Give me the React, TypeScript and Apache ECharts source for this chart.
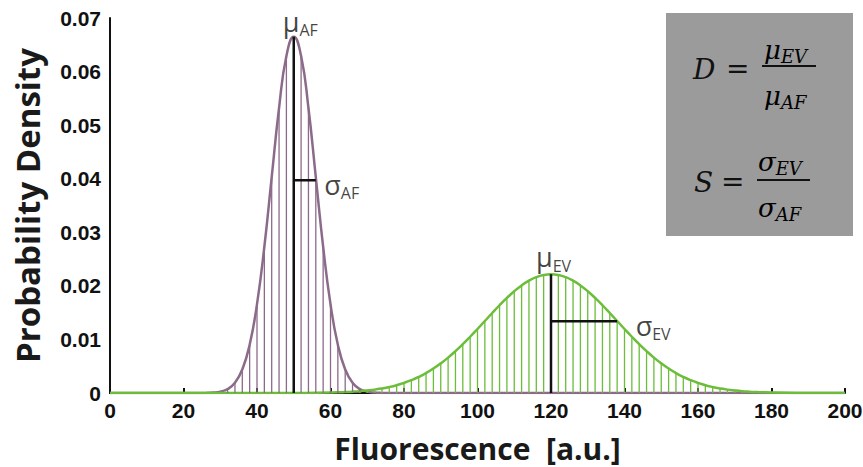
import React, { useEffect, useRef } from "react";
import * as echarts from "echarts";

// ---- data ----
const afX = [0, 20, 22, 24, 26, 28, 30, 32, 34, 36, 38, 40, 42, 44, 46, 48, 50, 52, 54, 56, 58, 60, 62, 64, 66, 68, 70, 72, 74, 76, 78, 80, 200];
const afY = [0, 0, 0, 0, 0.00002, 0.00008, 0.00026, 0.00074, 0.0019, 0.0044, 0.009, 0.0166, 0.0273, 0.0403, 0.0532, 0.0629, 0.0665, 0.0629, 0.0532, 0.0403, 0.0273, 0.0166, 0.009, 0.0044, 0.0019, 0.00074, 0.00026, 0.00008, 0.00002, 0, 0, 0, 0];

const evX = [0, 40, 50, 60, 62, 64, 66, 68, 70, 72, 74, 76, 78, 80, 82, 84, 86, 88, 90, 92, 94, 96, 98, 100, 102, 104, 106, 108, 110, 112, 114, 116, 118, 120, 122, 124, 126, 128, 130, 132, 134, 136, 138, 140, 142, 144, 146, 148, 150, 152, 154, 156, 158, 160, 162, 164, 166, 168, 170, 172, 174, 176, 178, 180, 190, 200];
const evY = [0, 0, 0.00001, 0.00009, 0.00012, 0.00018, 0.00025, 0.00034, 0.00047, 0.00063, 0.00085, 0.00112, 0.00146, 0.00188, 0.00239, 0.003, 0.00372, 0.00456, 0.00553, 0.00661, 0.00781, 0.00911, 0.0105, 0.01195, 0.01344, 0.01493, 0.01638, 0.01774, 0.01899, 0.02008, 0.02096, 0.02162, 0.02202, 0.02216, 0.02202, 0.02162, 0.02096, 0.02008, 0.01899, 0.01774, 0.01638, 0.01493, 0.01344, 0.01195, 0.0105, 0.00911, 0.00781, 0.00661, 0.00553, 0.00456, 0.00372, 0.003, 0.00239, 0.00188, 0.00146, 0.00112, 0.00085, 0.00063, 0.00047, 0.00034, 0.00025, 0.00018, 0.00012, 0.00009, 0.00001, 0];

const afStemRange = [32, 68];
const evStemRange = [64, 176];

const muAF = 50;
const muEV = 120;
const peakAF = 0.0665;
const peakEV = 0.02216;
const sigmaAF = 6;
const sigmaEV = 18;
const sigmaLevelAF = 0.0397;
const sigmaLevelEV = 0.0134;

const xTicks = [0, 20, 40, 60, 80, 100, 120, 140, 160, 180, 200];
const yTicks = [0, 0.01, 0.02, 0.03, 0.04, 0.05, 0.06, 0.07];

const PURPLE = "#8b6b89";
const GREEN = "#6bbd3a";

const pairs = (xs: number[], ys: number[]) => xs.map((x, i) => [x, ys[i]]);
const stems = (xs: number[], ys: number[], r: number[]) =>
  pairs(xs, ys).filter((p) => p[0] >= r[0] && p[0] <= r[1]);

const stemSeries = (data: number[][], color: string) => ({
  type: "custom",
  data,
  z: 3,
  renderItem: (_p: any, api: any) => {
    const x = api.value(0);
    const y = api.value(1);
    const a = api.coord([x, 0]);
    const b = api.coord([x, y]);
    return {
      type: "line",
      shape: { x1: a[0], y1: a[1], x2: b[0], y2: b[1] },
      style: { stroke: color, lineWidth: 1.3 },
    };
  },
});

const seg = (data: number[][]) => ({
  type: "line",
  data,
  symbol: "none",
  z: 5,
  lineStyle: { color: "#111", width: 2.5 },
});

const labelRich = {
  m: { fontSize: 27, lineHeight: 34, verticalAlign: "middle", fontFamily: "Open Sans", color: "#111" },
  s: { fontSize: 16, lineHeight: 16, verticalAlign: "bottom", fontFamily: "Open Sans", color: "#111" },
};

const labelSeries = (pt: number[], text: string, pos: any, offset: number[]) => ({
  type: "scatter",
  data: [pt],
  symbolSize: 1,
  itemStyle: { color: "rgba(0,0,0,0)" },
  z: 6,
  label: {
    show: true,
    position: pos,
    distance: 0,
    align: "left",
    offset,
    formatter: text,
    rich: labelRich,
  },
});

const fracRich = (size: number) => ({
  m: { fontSize: size, fontFamily: "DejaVu Serif", fontStyle: "italic", color: "#111", verticalAlign: "middle", lineHeight: 30 },
  s: { fontSize: 18, fontFamily: "DejaVu Serif", fontStyle: "italic", color: "#111", verticalAlign: "bottom", lineHeight: 18 },
});

export default function App() {
  const ref = useRef<HTMLDivElement>(null);
  useEffect(() => {
    if (!ref.current) return;
    const chart = echarts.init(ref.current, undefined, { renderer: "svg" });
    const option: any = {
      animation: false,
      backgroundColor: "#ffffff",
      grid: { left: 110, right: 18, top: 18, bottom: 74, containLabel: false, outerBoundsMode: "none" },
      xAxis: {
        type: "value",
        min: xTicks[0],
        max: xTicks[xTicks.length - 1],
        interval: xTicks[1] - xTicks[0],
        name: "Fluorescence  [a.u.]",
        nameLocation: "middle",
        nameGap: 40,
        nameTextStyle: { fontFamily: "Open Sans", fontWeight: "bold", fontSize: 30, color: "#1a1a1a" },
        axisLine: { lineStyle: { color: "#111", width: 2 } },
        axisTick: { inside: true, length: 5, lineStyle: { color: "#111", width: 2 } },
        axisLabel: { margin: 7, fontFamily: "Liberation Sans", fontWeight: "bold", fontSize: 21, color: "#111" },
        splitLine: { show: false },
      },
      yAxis: {
        type: "value",
        min: yTicks[0],
        max: yTicks[yTicks.length - 1],
        interval: 0.01,
        name: "Probability Density",
        nameLocation: "middle",
        nameGap: 66,
        nameTextStyle: { fontFamily: "Open Sans", fontWeight: "bold", fontSize: 33, color: "#1a1a1a" },
        axisLine: { show: true, lineStyle: { color: "#111", width: 2 } },
        axisTick: { show: false },
        axisLabel: {
          margin: 9,
          fontFamily: "Liberation Sans",
          fontWeight: "bold",
          fontSize: 21,
          color: "#111",
          formatter: (v: number) => (Math.abs(v) < 1e-9 ? "0" : v.toFixed(2)),
        },
        splitLine: { show: false },
      },
      series: [
        {
          type: "line",
          data: pairs(afX, afY),
          symbol: "none",
          smooth: 0.5,
          z: 2,
          lineStyle: { color: PURPLE, width: 2.5 },
        },
        {
          type: "line",
          data: pairs(evX, evY),
          symbol: "none",
          smooth: 0.5,
          z: 2,
          lineStyle: { color: GREEN, width: 2.5 },
        },
        stemSeries(stems(afX, afY, afStemRange), PURPLE),
        stemSeries(stems(evX, evY, evStemRange), GREEN),
        seg([[muAF, 0], [muAF, peakAF]]),
        seg([[muAF, sigmaLevelAF], [muAF + sigmaAF, sigmaLevelAF]]),
        seg([[muEV, 0], [muEV, peakEV]]),
        seg([[muEV, sigmaLevelEV], [muEV + sigmaEV, sigmaLevelEV]]),
        labelSeries([muAF, peakAF], "{m|μ}{s|AF}", "top", [-11, 2]),
        labelSeries([muEV, peakEV], "{m|μ}{s|EV}", "top", [-15, 0]),
        labelSeries([muAF + sigmaAF, sigmaLevelAF], "{m|σ}{s|AF}", "right", [8, 4]),
        labelSeries([muEV + sigmaEV, sigmaLevelEV], "{m|σ}{s|EV}", "right", [18, 4]),
      ],
      graphic: [
        { type: "rect", shape: { x: 666, y: 13, width: 187, height: 223 }, style: { fill: "#9b9b9b" }, z: 10 },
        { type: "text", x: 693, y: 69, z: 11, style: { text: "D", font: 'italic 28px "DejaVu Serif"', fill: "#111", verticalAlign: "middle" } },
        { type: "text", x: 726, y: 68, z: 11, style: { text: "=", font: '28px "DejaVu Serif"', fill: "#111", verticalAlign: "middle" } },
        { type: "line", z: 11, shape: { x1: 762, y1: 66, x2: 816, y2: 66 }, style: { stroke: "#111", lineWidth: 2 } },
        { type: "text", x: 764, y: 50, z: 11, style: { text: "{m|μ}{s|EV}", rich: fracRich(26), verticalAlign: "middle" } },
        { type: "text", x: 764, y: 96, z: 11, style: { text: "{m|μ}{s|AF}", rich: fracRich(26), verticalAlign: "middle" } },
        { type: "text", x: 694, y: 182, z: 11, style: { text: "S", font: 'italic 28px "DejaVu Serif"', fill: "#111", verticalAlign: "middle" } },
        { type: "text", x: 721, y: 181, z: 11, style: { text: "=", font: '28px "DejaVu Serif"', fill: "#111", verticalAlign: "middle" } },
        { type: "line", z: 11, shape: { x1: 757, y1: 180, x2: 810, y2: 180 }, style: { stroke: "#111", lineWidth: 2 } },
        { type: "text", x: 758, y: 162, z: 11, style: { text: "{m|σ}{s|EV}", rich: fracRich(26), verticalAlign: "middle" } },
        { type: "text", x: 758, y: 208, z: 11, style: { text: "{m|σ}{s|AF}", rich: fracRich(26), verticalAlign: "middle" } },
      ],
    };
    chart.setOption(option);
    return () => chart.dispose();
  }, []);
  return (
    <div
      ref={ref}
      style={{ position: "absolute", left: 0, top: 0, width: 863, height: 467 }}
    />
  );
}
